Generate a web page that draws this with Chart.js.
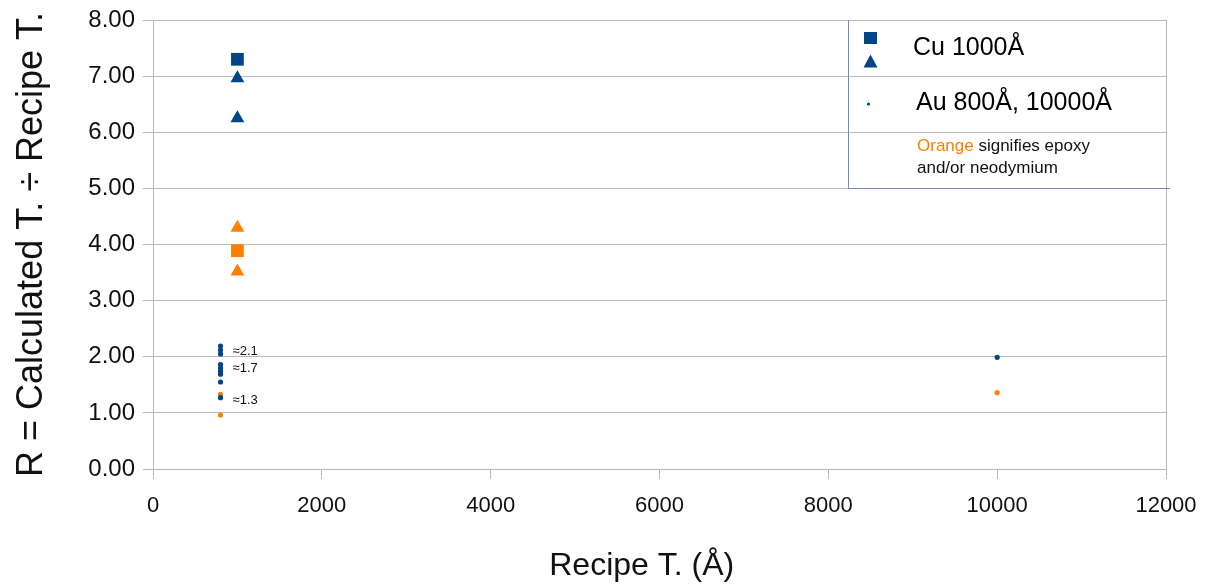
<!DOCTYPE html>
<html>
<head>
<meta charset="utf-8">
<script src="https://cdn.jsdelivr.net/npm/chart.js@4/dist/chart.umd.min.js"></script>
<style>
  html, body { margin: 0; padding: 0; background: #fff; }
  #wrap { width: 1207px; height: 586px; position: relative; }
</style>
</head>
<body>
<div id="wrap"><canvas id="c" width="1207" height="586"></canvas></div>
<script>
// ---- data ----
const BLUE = '#004586';
const ORANGE = '#ff8000';

const cuSquareBlue = [{x: 1000, y: 7.30}];
const cuTriangleBlue = [{x: 1000, y: 6.96}, {x: 1000, y: 6.25}];
const cuSquareOrange = [{x: 1000, y: 3.89}];
const cuTriangleOrange = [{x: 1000, y: 4.30}, {x: 1000, y: 3.52}];
const auDotsBlue = [
  {x: 800, y: 2.19}, {x: 800, y: 2.12}, {x: 800, y: 2.05},
  {x: 800, y: 1.86}, {x: 800, y: 1.80}, {x: 800, y: 1.74}, {x: 800, y: 1.69},
  {x: 800, y: 1.55}, {x: 800, y: 1.27},
  {x: 10000, y: 1.99}
];
const auDotsOrange = [{x: 800, y: 1.33}, {x: 800, y: 0.96}, {x: 10000, y: 1.36}];

const annotLabels = ['≈2.1', '≈1.7', '≈1.3'];
const annotY = [2.09, 1.80, 1.22];
const annotX = 800;

const xTicks = [0, 2000, 4000, 6000, 8000, 10000, 12000];
const yTicks = [0, 1, 2, 3, 4, 5, 6, 7, 8];

const legendCu = 'Cu 1000Å';
const legendAu = 'Au 800Å, 10000Å';
const noteOrange = 'Orange';
const noteRest1 = ' signifies epoxy';
const noteRest2 = 'and/or neodymium';

const FONT = '"Liberation Sans", Arial, sans-serif';
const GRID = '#b8b8b8';

// ---- plugins ----
const annotPlugin = {
  id: 'annot',
  afterDatasetsDraw(chart) {
    const ctx = chart.ctx;
    const xs = chart.scales.x, ys = chart.scales.y;
    ctx.save();
    ctx.font = '13px ' + FONT;
    ctx.fillStyle = '#111';
    ctx.textBaseline = 'middle';
    ctx.textAlign = 'left';
    annotLabels.forEach((t, i) => {
      ctx.fillText(t, xs.getPixelForValue(annotX) + 12, ys.getPixelForValue(annotY[i]));
    });
    ctx.restore();
  }
};

const legendPlugin = {
  id: 'customLegend',
  afterDraw(chart) {
    const ctx = chart.ctx;
    const top = chart.chartArea.top;
    ctx.save();
    ctx.strokeStyle = '#6f8fb8';
    ctx.lineWidth = 1;
    ctx.beginPath();
    ctx.moveTo(848.5, top);
    ctx.lineTo(848.5, 188.5);
    ctx.lineTo(1170, 188.5);
    ctx.stroke();
    ctx.fillStyle = BLUE;
    ctx.fillRect(864, 32, 13, 12);
    ctx.beginPath();
    ctx.moveTo(870.5, 54.5);
    ctx.lineTo(877.5, 67.5);
    ctx.lineTo(863.5, 67.5);
    ctx.closePath();
    ctx.fill();
    ctx.beginPath();
    ctx.arc(868.5, 104, 1.6, 0, Math.PI * 2);
    ctx.fill();
    ctx.fillStyle = '#000';
    ctx.textBaseline = 'middle';
    ctx.textAlign = 'left';
    ctx.font = '25px ' + FONT;
    ctx.fillText(legendCu, 913, 48);
    ctx.fillText(legendAu, 916, 103);
    ctx.font = '17px ' + FONT;
    ctx.fillStyle = ORANGE;
    ctx.fillText(noteOrange, 917, 146);
    const w = ctx.measureText(noteOrange).width;
    ctx.fillStyle = '#111';
    ctx.fillText(noteRest1, 917 + w, 146);
    ctx.fillText(noteRest2, 917, 168);
    ctx.restore();
  }
};

const ds = (data, style, color, r) => ({
  data, pointStyle: style, backgroundColor: color, borderColor: color,
  pointRadius: r, pointHoverRadius: r, borderWidth: 0, showLine: false
});

new Chart(document.getElementById('c'), {
  type: 'scatter',
  data: {
    datasets: [
      ds(auDotsBlue, 'circle', BLUE, 2.6),
      ds(auDotsOrange, 'circle', ORANGE, 2.6),
      ds(cuSquareBlue, 'rect', BLUE, 9),
      ds(cuTriangleBlue, 'triangle', BLUE, 8),
      ds(cuSquareOrange, 'rect', ORANGE, 9),
      ds(cuTriangleOrange, 'triangle', ORANGE, 8)
    ]
  },
  options: {
    responsive: false,
    animation: false,
    devicePixelRatio: 1,
    layout: { padding: { top: 20, right: 41, left: 0, bottom: 0 } },
    plugins: { legend: { display: false }, tooltip: { enabled: false } },
    scales: {
      x: {
        type: 'linear', min: 0, max: 12000,
        afterBuildTicks(s) { s.ticks = xTicks.map(v => ({value: v})); },
        afterFit(s) { s.height = 117; s.paddingLeft = 0; s.paddingRight = 0; },
        grid: {
          color: c => (c.tick && (c.tick.value === 0 || c.tick.value === 12000)) ? GRID : 'rgba(0,0,0,0)',
          tickColor: GRID, lineWidth: 1, tickLength: 10, drawTicks: true
        },
        border: { color: GRID },
        ticks: { color: '#111', font: { family: FONT, size: 22 }, padding: 14, maxRotation: 0,
                 callback: v => String(v) },
        title: { display: true, text: 'Recipe T. (Å)    ', color: '#111',
                 font: { family: FONT, size: 32 }, padding: { top: 1, bottom: 1 } }
      },
      y: {
        type: 'linear', min: 0, max: 8,
        afterBuildTicks(s) { s.ticks = yTicks.map(v => ({value: v})); },
        afterFit(s) { s.width = 153; s.paddingTop = 0; s.paddingBottom = 0; },
        grid: { color: GRID, lineWidth: 1, tickLength: 10 },
        border: { color: GRID },
        ticks: { color: '#111', font: { family: FONT, size: 24 }, padding: 8,
                 callback: v => Number(v).toFixed(2) },
        title: { display: true, text: 'R = Calculated T. ÷ Recipe T.', color: '#111',
                 font: { family: FONT, size: 36 }, padding: { top: 10, bottom: 0 } }
      }
    }
  },
  plugins: [annotPlugin, legendPlugin]
});
</script>
</body>
</html>
